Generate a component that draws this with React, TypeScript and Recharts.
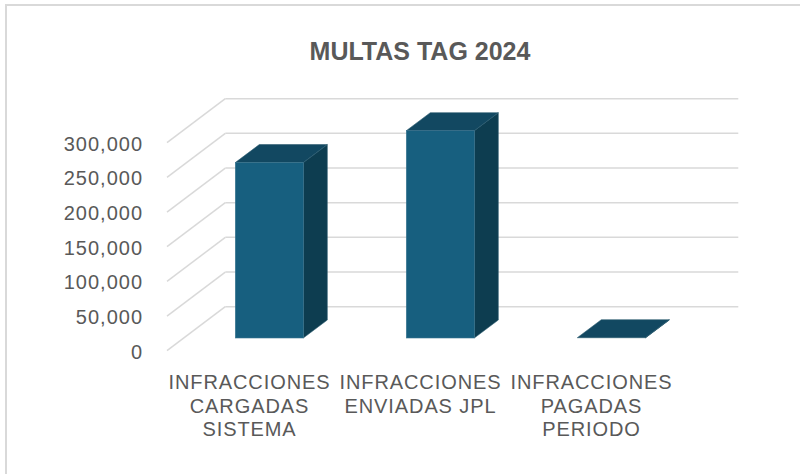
import { BarChart, Bar, XAxis, YAxis, CartesianGrid } from "recharts"

const categories = ["INFRACCIONES CARGADAS SISTEMA", "INFRACCIONES ENVIADAS JPL", "INFRACCIONES PAGADAS PERIODO"]
const categoryLines = [
  ["INFRACCIONES", "CARGADAS", "SISTEMA"],
  ["INFRACCIONES", "ENVIADAS JPL"],
  ["INFRACCIONES", "PAGADAS", "PERIODO"],
]
const multas = [253000, 299000, 400]
const yTicks = [0, 50000, 100000, 150000, 200000, 250000, 300000]

const chartData = categories.map((name, i) => ({ name, lines: categoryLines[i], multas: multas[i] }))

// oblique 3D offsets
const DEPTH_X = 24
const DEPTH_Y = 18
const WALL_X = 41.3
const WALL_Y = 31.3
const FRONT_X = 17
const FRONT_Y = 12.7

const textColor = "#595959"
const gridColor = "#d9d9d9"
const font = "'Liberation Sans', Arial, sans-serif"

function Bar3D(props: any) {
  const { x, y, width, height } = props
  const h = Math.max(height, 0)
  return (
    <g>
      <polygon
        points={`${x + width},${y} ${x + width + DEPTH_X},${y - DEPTH_Y} ${x + width + DEPTH_X},${y + h - DEPTH_Y} ${x + width},${y + h}`}
        fill="#0d3d50"
        stroke="#2a5a6e"
        strokeWidth={0.6}
      />
      <polygon
        points={`${x},${y} ${x + width},${y} ${x + width + DEPTH_X},${y - DEPTH_Y} ${x + DEPTH_X},${y - DEPTH_Y}`}
        fill="#124861"
        stroke="#2a5a6e"
        strokeWidth={0.6}
      />
      {h > 0.5 && <rect x={x} y={y} width={width} height={h} fill="#175f7f" stroke="#3a7590" strokeWidth={0.6} />}
    </g>
  )
}

function GridLine(props: any) {
  const { x1, y1, x2 } = props
  return (
    <g key={`g-${y1}`}>
      <line x1={x1 - FRONT_X} y1={y1 + FRONT_Y} x2={x1 + WALL_X} y2={y1 - WALL_Y} stroke={gridColor} strokeWidth={1.5} />
      <line x1={x1 + WALL_X} y1={y1 - WALL_Y} x2={x2 + WALL_X} y2={y1 - WALL_Y} stroke={gridColor} strokeWidth={1.5} />
    </g>
  )
}

function YTick(props: any) {
  const { x, y, payload } = props
  return (
    <text
      x={x - 41}
      y={y + FRONT_Y + 8}
      textAnchor="end"
      fill={textColor}
      fontSize={20}
      letterSpacing={1}
      fontFamily={font}
    >
      {Number(payload.value).toLocaleString("en-US")}
    </text>
  )
}

function XTick(props: any) {
  const { x, y, index } = props
  const lines = chartData[index]?.lines ?? []
  return (
    <text textAnchor="middle" fill={textColor} fontSize={20} letterSpacing={0.9} fontFamily={font}>
      {lines.map((line: string, i: number) => (
        <tspan key={i} x={x - 20} y={y + 51 + i * 23.5}>
          {line}
        </tspan>
      ))}
    </text>
  )
}

export default function App() {
  return (
    <div style={{ position: "absolute", left: 0, top: 0, width: 800, height: 474, background: "#fff", overflow: "hidden" }}>
      <div
        style={{
          position: "absolute",
          left: 5,
          top: 4,
          width: 820,
          height: 500,
          border: `2px solid ${gridColor}`,
          boxSizing: "border-box",
        }}
      />
      <div
        style={{
          position: "absolute",
          left: 0,
          top: 33,
          width: 840,
          textAlign: "center",
          fontFamily: font,
          fontWeight: "bold",
          fontSize: 25,
          color: textColor,
          lineHeight: "36px",
        }}
      >
        MULTAS TAG 2024
      </div>
      <div style={{ position: "absolute", left: 0, top: 0 }}>
        <BarChart
          width={800}
          height={474}
          data={chartData}
          margin={{ top: 130, right: 103, bottom: 106, left: 124 }}
          barCategoryGap="30%"
        >
          <CartesianGrid vertical={false} horizontal={GridLine} />
          <XAxis
            dataKey="name"
            axisLine={false}
            tickLine={false}
            tickSize={0}
            tickMargin={0}
            height={30}
            interval={0}
            tick={XTick}
          />
          <YAxis
            domain={[0, 300000]}
            ticks={yTicks}
            axisLine={false}
            tickLine={false}
            tickSize={0}
            tickMargin={0}
            width={60}
            tick={YTick}
          />
          <Bar dataKey="multas" shape={Bar3D} isAnimationActive={false} />
        </BarChart>
      </div>
    </div>
  )
}
